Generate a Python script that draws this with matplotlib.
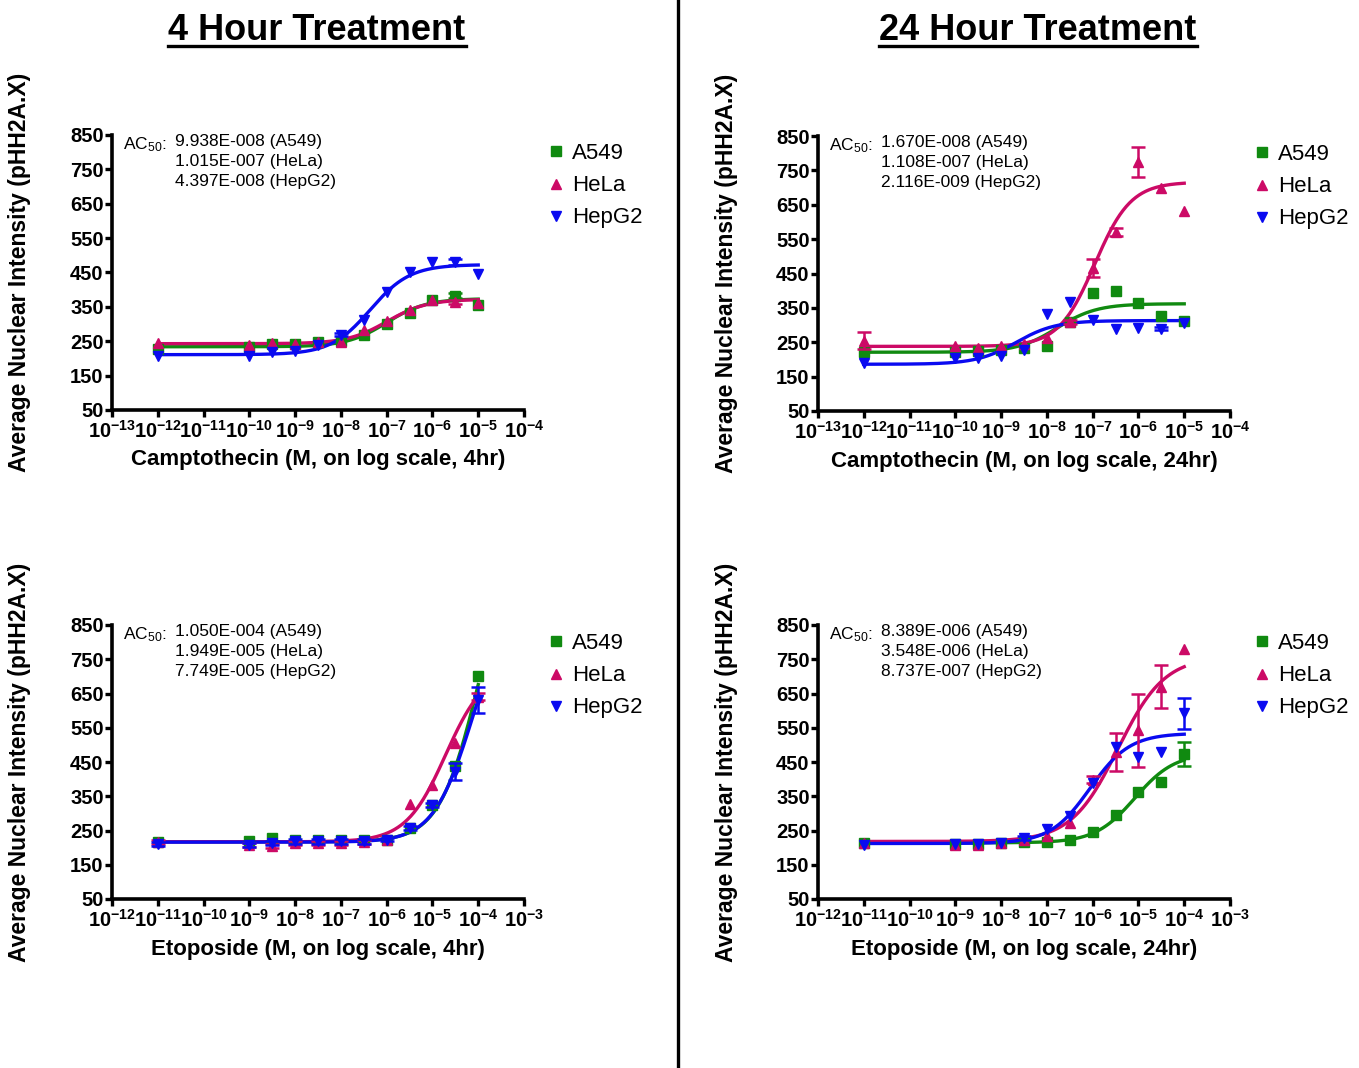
import numpy as np
import matplotlib
matplotlib.use("Agg")
import matplotlib.pyplot as plt
from matplotlib.lines import Line2D

plt.rcParams['font.family'] = ['Liberation Sans', 'DejaVu Sans']
plt.rcParams['mathtext.fontset'] = 'custom'
plt.rcParams['mathtext.rm'] = 'Liberation Sans'
plt.rcParams['mathtext.it'] = 'Liberation Sans:italic'
plt.rcParams['mathtext.bf'] = 'Liberation Sans:bold'

"""
Data read off the figure (log10 of dose in M, mean response, SEM)
"""
cells = ['A549', 'HeLa', 'HepG2']
colors = ['#108a10', '#cc0a66', '#0a0af0']
markers = ['s', '^', 'v']

log_dose_cpt = [-12, -10, -9.5, -9, -8.5, -8, -7.5, -7, -6.5, -6, -5.5, -5]
log_dose_eto = [-11, -9, -8.5, -8, -7.5, -7, -6.5, -6, -5.5, -5, -4.5, -4]

# Camptothecin 4 hr
cpt4_a549 = [228, 233, 242, 242, 247, 252, 267, 301, 333, 369, 383, 354]
cpt4_hela = [244, 240, 245, 242, 247, 247, 283, 308, 340, 369, 364, 361]
cpt4_hepg2 = [207, 208, 218, 223, 238, 269, 312, 393, 451, 481, 481, 445]
cpt4_a549_err = [0, 0, 0, 0, 0, 0, 0, 0, 0, 0, 6, 0]
cpt4_hela_err = [0, 0, 0, 0, 0, 0, 0, 0, 0, 0, 5, 0]
cpt4_hepg2_err = [0, 0, 0, 0, 0, 5, 0, 0, 0, 0, 8, 0]

# Camptothecin 24 hr
cpt24_a549 = [223, 222, 225, 228, 232, 240, 310, 393, 398, 364, 325, 311]
cpt24_hela = [255, 238, 233, 240, 245, 262, 308, 466, 570, 775, 700, 633]
cpt24_hepg2 = [189, 204, 204, 210, 228, 333, 366, 315, 290, 291, 290, 307]
cpt24_a549_err = [0, 0, 0, 0, 0, 0, 0, 0, 0, 0, 0, 0]
cpt24_hela_err = [25, 0, 0, 0, 0, 0, 6, 27, 12, 43, 0, 0]
cpt24_hepg2_err = [0, 0, 0, 0, 0, 0, 0, 0, 0, 0, 5, 0]

# Etoposide 4 hr
eto4_a549 = [216, 220, 227, 221, 221, 221, 221, 221, 257, 325, 437, 701]
eto4_hela = [216, 208, 205, 213, 213, 213, 216, 221, 328, 383, 505, 641]
eto4_hepg2 = [210, 208, 213, 218, 218, 218, 218, 223, 257, 325, 422, 631]
eto4_a549_err = [0, 0, 0, 0, 0, 0, 0, 0, 0, 0, 0, 0]
eto4_hela_err = [5, 6, 6, 5, 5, 5, 5, 0, 0, 0, 0, 10]
eto4_hepg2_err = [5, 5, 5, 6, 6, 6, 6, 5, 5, 5, 25, 37]

# Etoposide 24 hr
eto24_a549 = [213, 210, 210, 213, 216, 216, 223, 247, 296, 361, 393, 472]
eto24_hela = [213, 208, 208, 213, 223, 233, 272, 398, 480, 542, 670, 779]
eto24_hepg2 = [208, 210, 210, 213, 228, 254, 291, 388, 494, 466, 480, 592]
eto24_a549_err = [0, 0, 0, 0, 0, 0, 0, 0, 0, 0, 0, 35]
eto24_hela_err = [0, 0, 0, 0, 0, 0, 0, 10, 55, 108, 62, 0]
eto24_hepg2_err = [0, 0, 0, 0, 6, 0, 0, 0, 0, 0, 0, 45]

# Fitted curves: bottom, top, AC50 (printed on the chart), hill slope
cpt4_bottom = [234, 243, 211]
cpt4_top = [374, 372, 473]
cpt4_ac50 = [9.938e-8, 1.015e-7, 4.397e-8]
cpt4_hill = [1.0, 1.0, 1.0]

cpt24_bottom = [221, 238, 186]
cpt24_top = [362, 716, 313]
cpt24_ac50 = [1.670e-8, 1.108e-7, 2.116e-9]
cpt24_hill = [1.0, 1.1, 1.0]

eto4_bottom = [217, 217, 216]
eto4_top = [1158, 726, 955]
eto4_ac50 = [1.050e-4, 1.949e-5, 7.749e-5]
eto4_hill = [1.0, 1.0, 1.0]

eto24_bottom = [214, 218, 212]
eto24_top = [476, 758, 534]
eto24_ac50 = [8.389e-6, 3.548e-6, 8.737e-7]
eto24_hill = [1.0, 0.85, 1.0]

ac50_labels_cpt4 = ['9.938E-008 (A549)', '1.015E-007 (HeLa)', '4.397E-008 (HepG2)']
ac50_labels_cpt24 = ['1.670E-008 (A549)', '1.108E-007 (HeLa)', '2.116E-009 (HepG2)']
ac50_labels_eto4 = ['1.050E-004 (A549)', '1.949E-005 (HeLa)', '7.749E-005 (HepG2)']
ac50_labels_eto24 = ['8.389E-006 (A549)', '3.548E-006 (HeLa)', '8.737E-007 (HepG2)']

yticks = [50, 150, 250, 350, 450, 550, 650, 750, 850]
ylabel = "Average Nuclear Intensity (pHH2A.X)"


def hill(logx, bottom, top, ac50, slope):
    return bottom + (top - bottom) / (1 + 10 ** ((np.log10(ac50) - logx) * slope))


def draw_panel(ax, log_dose, means, errs, bottoms, tops, ac50s, hills, labels, xlabel, first_decade):
    dose = 10 ** np.array(log_dose, dtype=float)
    for i in range(3):
        xc = np.linspace(log_dose[0], log_dose[-1], 300)
        ax.plot(10 ** xc, hill(xc, bottoms[i], tops[i], ac50s[i], hills[i]),
                color=colors[i], lw=2.4, zorder=2 + i)
        y = np.array(means[i], dtype=float)
        e = np.array(errs[i], dtype=float)
        has_err = e > 0
        if has_err.any():
            ax.errorbar(dose[has_err], y[has_err], yerr=e[has_err], fmt='none',
                        ecolor=colors[i], elinewidth=1.8, capsize=5, capthick=1.8,
                        zorder=5 + i, clip_on=False)
        ax.plot(dose, y, linestyle='none', marker=markers[i], color=colors[i],
                markersize=7.5, zorder=5 + i, clip_on=False)

    ax.set_xscale('log')
    decades = np.arange(first_decade, first_decade + 10)
    ax.set_xlim(10.0 ** decades[0], 10.0 ** decades[-1])
    ax.set_xticks(10.0 ** decades)
    ax.set_xticklabels([r'$\mathbf{10^{%d}}$' % d for d in decades])
    ax.minorticks_off()
    ax.set_ylim(50, 850)
    ax.set_yticks(yticks)
    for lab in ax.get_yticklabels():
        lab.set_fontweight('bold')

    for s in ['top', 'right']:
        ax.spines[s].set_visible(False)
    for s in ['left', 'bottom']:
        ax.spines[s].set_linewidth(2.6)
    ax.tick_params(axis='both', direction='out', length=5, width=2.4, labelsize=14.5, pad=1)
    ax.tick_params(axis='x', labelsize=14.5, pad=2)

    ax.text(0.027, 1.0, 'AC$_{50}$:', transform=ax.transAxes, ha='left', va='top', fontsize=12.5)
    ax.text(0.153, 1.004, '\n'.join(labels), transform=ax.transAxes, ha='left', va='top',
            fontsize=12.5, linespacing=1.42)

    handles = [Line2D([], [], marker=markers[i], color=colors[i], linestyle='none', markersize=7)
               for i in range(3)]
    ax.legend(handles, cells, loc='upper left', bbox_to_anchor=(1.06, 0.97), frameon=False,
              fontsize=16, handlelength=0.7, handletextpad=0.35, labelspacing=0.5,
              borderpad=0, borderaxespad=0)

    box = ax.get_position()
    fig.text(box.x0 + box.width / 2, box.y0 - 50 / 1068, xlabel, ha='center', va='center',
             fontsize=16, fontweight='bold')
    fig.text(box.x0 - 92 / 1359, box.y0 + box.height / 2, ylabel, rotation=90,
             ha='center', va='center', fontsize=16.5, fontweight='bold')


fig = plt.figure(figsize=(13.59, 10.68), dpi=100)
ax_tl = fig.add_axes([112 / 1359, 1 - 410 / 1068, 412 / 1359, 275 / 1068])
ax_tr = fig.add_axes([818 / 1359, 1 - 411 / 1068, 412 / 1359, 275 / 1068])
ax_bl = fig.add_axes([112 / 1359, 1 - 899 / 1068, 412 / 1359, 274 / 1068])
ax_br = fig.add_axes([818 / 1359, 1 - 899 / 1068, 412 / 1359, 274 / 1068])

draw_panel(ax_tl, log_dose_cpt, [cpt4_a549, cpt4_hela, cpt4_hepg2],
           [cpt4_a549_err, cpt4_hela_err, cpt4_hepg2_err],
           cpt4_bottom, cpt4_top, cpt4_ac50, cpt4_hill, ac50_labels_cpt4,
           "Camptothecin (M, on log scale, 4hr)", -13)
draw_panel(ax_tr, log_dose_cpt, [cpt24_a549, cpt24_hela, cpt24_hepg2],
           [cpt24_a549_err, cpt24_hela_err, cpt24_hepg2_err],
           cpt24_bottom, cpt24_top, cpt24_ac50, cpt24_hill, ac50_labels_cpt24,
           "Camptothecin (M, on log scale, 24hr)", -13)
draw_panel(ax_bl, log_dose_eto, [eto4_a549, eto4_hela, eto4_hepg2],
           [eto4_a549_err, eto4_hela_err, eto4_hepg2_err],
           eto4_bottom, eto4_top, eto4_ac50, eto4_hill, ac50_labels_eto4,
           "Etoposide (M, on log scale, 4hr)", -12)
draw_panel(ax_br, log_dose_eto, [eto24_a549, eto24_hela, eto24_hepg2],
           [eto24_a549_err, eto24_hela_err, eto24_hepg2_err],
           eto24_bottom, eto24_top, eto24_ac50, eto24_hill, ac50_labels_eto24,
           "Etoposide (M, on log scale, 24hr)", -12)

# divider between the two treatment columns
fig.add_artist(Line2D([678 / 1359, 678 / 1359], [0, 1], transform=fig.transFigure,
                      color='black', lw=2.4))

# underlined column titles
titles = []
for xc, txt in [(317 / 1359, '4 Hour Treatment'), (1038 / 1359, '24 Hour Treatment')]:
    titles.append(fig.text(xc, 1 - 40 / 1068, txt, ha='center', va='baseline',
                           fontsize=26, fontweight='bold'))
fig.canvas.draw()
inv = fig.transFigure.inverted()
for t in titles:
    bb = t.get_window_extent()
    (x0, _), (x1, _) = inv.transform([(bb.x0, 0), (bb.x1, 0)])
    yl = 1 - 46 / 1068
    fig.add_artist(Line2D([x0, x1], [yl, yl], transform=fig.transFigure, color='black', lw=2.4))

fig.savefig('out.png', dpi=100)
